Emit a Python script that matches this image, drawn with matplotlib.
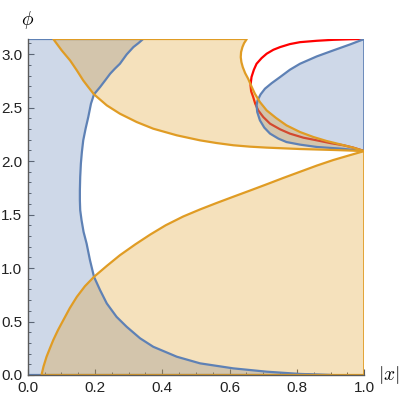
import numpy as np
import matplotlib
matplotlib.use("Agg")
import matplotlib.pyplot as plt
from matplotlib.patches import Polygon
from matplotlib.ticker import MultipleLocator

plt.rcParams["mathtext.fontset"] = "cm"
plt.rcParams["font.family"] = ["Liberation Sans", "DejaVu Sans"]

PI = np.pi

# left blue boundary (top -> bottom)
blue_a_x = [0.343, 0.329, 0.314, 0.294, 0.274, 0.259, 0.245, 0.230, 0.215, 0.197,
            0.188, 0.180, 0.172, 0.165, 0.161, 0.158, 0.156, 0.155, 0.155, 0.156,
            0.160, 0.166, 0.175, 0.185, 0.197, 0.215, 0.235, 0.264, 0.294, 0.334,
            0.373, 0.443, 0.512, 0.611, 0.710, 0.809, 0.900]
blue_a_y = [PI, 3.103, 3.066, 2.997, 2.910, 2.864, 2.817, 2.754, 2.692, 2.624,
            2.537, 2.412, 2.303, 2.194, 2.085, 1.977, 1.852, 1.727, 1.634, 1.541,
            1.447, 1.338, 1.229, 1.074, 0.918, 0.794, 0.669, 0.544, 0.451, 0.343,
            0.264, 0.171, 0.109, 0.062, 0.031, 0.010, 0.0]

# right blue boundary (top -> bottom)
blue_b_x = [1.0, 0.958, 0.908, 0.859, 0.809, 0.779, 0.750, 0.725, 0.705, 0.692,
            0.683, 0.680, 0.682, 0.690, 0.703, 0.720, 0.745, 0.769, 0.809, 0.859,
            0.928, 1.0]
blue_b_y = [PI, 3.091, 3.035, 2.979, 2.910, 2.854, 2.786, 2.729, 2.677, 2.624,
            2.568, 2.521, 2.459, 2.381, 2.313, 2.257, 2.210, 2.178, 2.154, 2.132,
            2.117, 2.094]

# red curve (top -> bottom)
red_x = [1.0, 0.958, 0.908, 0.859, 0.809, 0.779, 0.750, 0.730, 0.710, 0.695,
         0.680, 0.672, 0.665, 0.662, 0.664, 0.670, 0.676, 0.685, 0.700, 0.720,
         0.750, 0.779, 0.819, 0.859, 0.898, 0.938, 0.967, 1.0]
red_y = [PI, 3.139, 3.134, 3.125, 3.112, 3.094, 3.066, 3.041, 3.004, 2.963,
         2.910, 2.854, 2.786, 2.708, 2.652, 2.599, 2.537, 2.474, 2.412, 2.350,
         2.297, 2.257, 2.219, 2.194, 2.169, 2.148, 2.126, 2.094]

# upper orange region: lower boundary (left -> right)
orange_lo_x = [0.076, 0.101, 0.126, 0.146, 0.165, 0.180, 0.197, 0.235, 0.274,
               0.324, 0.373, 0.443, 0.512, 0.561, 0.611, 0.660, 0.710, 0.809,
               0.908, 1.0]
orange_lo_y = [PI, 3.035, 2.941, 2.848, 2.754, 2.692, 2.624, 2.521, 2.443,
               2.365, 2.303, 2.241, 2.194, 2.169, 2.148, 2.135, 2.126, 2.113,
               2.104, 2.094]

# upper orange region: right boundary (top -> bottom)
orange_hi_x = [0.651, 0.643, 0.638, 0.634, 0.633, 0.635, 0.639, 0.646, 0.655,
               0.665, 0.675, 0.690, 0.710, 0.738, 0.769, 0.809, 0.849, 0.888,
               0.928, 0.967, 1.0]
orange_hi_y = [PI, 3.103, 3.066, 3.019, 2.972, 2.925, 2.879, 2.823, 2.770,
               2.698, 2.630, 2.552, 2.474, 2.403, 2.334, 2.272, 2.225, 2.188,
               2.157, 2.126, 2.094]

# lower orange region boundary (left -> right)
orange_d_x = [0.041, 0.047, 0.056, 0.066, 0.076, 0.090, 0.106, 0.125, 0.146,
              0.170, 0.197, 0.235, 0.274, 0.320, 0.364, 0.410, 0.462, 0.512,
              0.561, 0.611, 0.660, 0.710, 0.759, 0.809, 0.859, 0.908, 0.958, 1.0]
orange_d_y = [0.0, 0.080, 0.171, 0.250, 0.327, 0.420, 0.514, 0.625, 0.731,
              0.830, 0.918, 1.020, 1.120, 1.222, 1.313, 1.400, 1.482, 1.548,
              1.608, 1.667, 1.724, 1.783, 1.842, 1.900, 1.958, 2.010, 2.056, 2.094]

BLUE = (0.368, 0.507, 0.710)
ORANGE = (0.880, 0.611, 0.142)
ALPHA = 0.3

fig = plt.figure(figsize=(4.05, 4.0), dpi=100)
ax = fig.add_axes([0.0684, 0.0625, 0.831, 0.840])

# red curve sits underneath the shaded regions
ax.plot(red_x, red_y, color="red", lw=1.6, zorder=1, solid_capstyle="butt")

regions = [
    (list(zip([0.0] + blue_a_x[::-1] + [0.0], [0.0] + blue_a_y[::-1] + [PI])), BLUE),
    (list(zip(blue_b_x, blue_b_y)), BLUE),
    (list(zip(orange_hi_x + orange_lo_x[::-1], orange_hi_y + orange_lo_y[::-1])), ORANGE),
    (list(zip(orange_d_x + [1.0], orange_d_y + [0.0])), ORANGE),
]

for verts, col in regions:
    ax.add_patch(Polygon(verts, closed=True, facecolor=col + (ALPHA,),
                         edgecolor="none", zorder=2))
for verts, col in regions:
    ax.add_patch(Polygon(verts, closed=True, facecolor="none", edgecolor=col,
                         lw=1.6, zorder=3, joinstyle="round"))

ax.set_xlim(0, 1)
ax.set_ylim(0, PI)

for side in ["top", "right"]:
    ax.spines[side].set_visible(False)
for side in ["left", "bottom"]:
    ax.spines[side].set_color("#5a5a5a")
    ax.spines[side].set_linewidth(1.0)
    ax.spines[side].set_zorder(5)

ax.xaxis.set_major_locator(MultipleLocator(0.2))
ax.xaxis.set_minor_locator(MultipleLocator(0.05))
ax.yaxis.set_major_locator(MultipleLocator(0.5))
ax.yaxis.set_minor_locator(MultipleLocator(0.1))
ax.xaxis.set_major_formatter(lambda v, p: f"{v:.1f}")
ax.yaxis.set_major_formatter(lambda v, p: f"{v:.1f}")
ax.tick_params(which="both", direction="in", color="#5a5a5a", labelsize=11,
               labelcolor="#222222")
ax.tick_params(which="major", length=4, width=0.8, pad=4)
ax.tick_params(which="minor", length=2.2, width=0.7)

ax.text(0.0, 1.056, r"$\phi$", transform=ax.transAxes, fontsize=14,
        ha="center", va="center")
ax.text(1.041, 0.0, r"$|x|$", transform=ax.transAxes, fontsize=14,
        ha="left", va="center")

fig.savefig("out.png", dpi=100)
